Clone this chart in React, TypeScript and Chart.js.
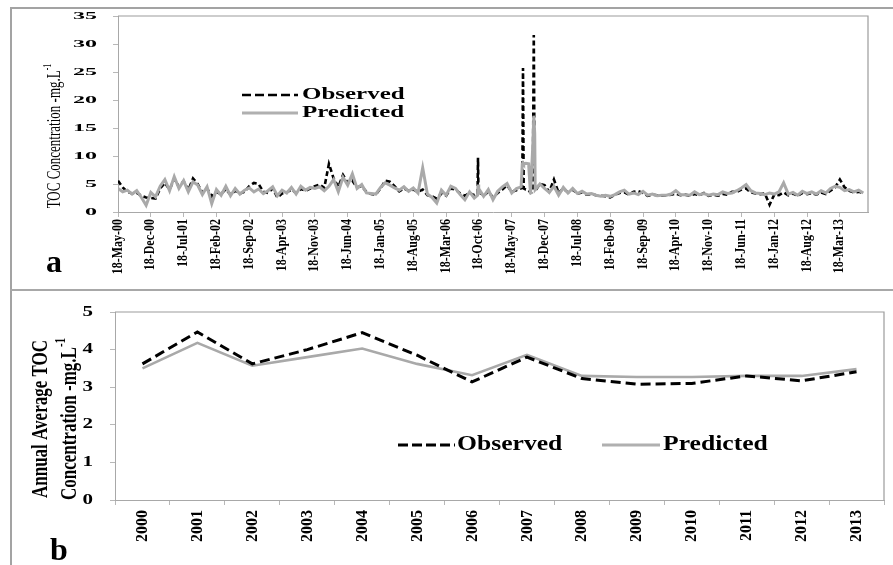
import React, { useEffect, useRef } from 'react';
import { Chart, registerables } from 'chart.js';

Chart.register(...registerables);

// ---------- Panel a : monthly TOC series (month 0 = May-2000) ----------
const dateTickMonths = [0, 7, 14, 21, 28, 35, 42, 49, 56, 63, 70, 77, 84, 91, 98, 105, 112, 119, 126, 133, 140, 147, 154];
const dateTickLabels = [
  '18-May-00', '18-Dec-00', '18-Jul-01', '18-Feb-02', '18-Sep-02', '18-Apr-03', '18-Nov-03', '18-Jun-04',
  '18-Jan-05', '18-Aug-05', '18-Mar-06', '18-Oct-06', '18-May-07', '18-Dec-07', '18-Jul-08', '18-Feb-09',
  '18-Sep-09', '18-Apr-10', '18-Nov-10', '18-Jun-11', '18-Jan-12', '18-Aug-12', '18-Mar-13',
];

const observedMonthly = [
  5.6, 4.4, 3.6, 3.3, 3.4, 2.9, 2.6, 2.5, 2.4, 4.2,
  5.2, 4.0, 5.9, 4.5, 5.5, 3.9, 6.0, 5.0, 3.4, 4.2,
  2.8, 3.6, 3.2, 4.1, 3.1, 3.8, 3.3, 3.6, 4.6, 5.2,
  5.0, 3.6, 3.4, 4.2, 2.6, 3.3, 3.5, 4.0, 3.4, 4.1,
  3.8, 4.2, 4.6, 4.9, 4.3, 8.6, 6.0, 4.5, 6.6, 5.2,
  5.6, 4.4, 4.6, 3.6, 3.2, 3.1, 4.2, 5.6, 5.4, 4.6,
  3.7, 4.2, 3.8, 4.0, 3.6, 4.0, 3.0, 2.8, 2.4, 3.3,
  2.9, 4.2, 4.0, 3.3, 2.9, 3.4, 3.0, 3.6, 2.9, 3.6,
  2.6, 3.4, 4.0, 4.8, 3.6, 3.9, 4.2, 4.0, 3.4, 3.8,
  5.0, 4.8, 3.6, 5.8, 3.4, 4.2, 3.5, 4.0, 3.3, 3.5,
  3.1, 3.2, 3.0, 2.9, 2.8, 2.6, 3.1, 3.4, 3.5, 3.1,
  3.6, 3.7, 3.4, 2.9, 3.1, 3.0, 2.9, 3.0, 3.1, 3.3,
  3.0, 3.1, 2.9, 3.2, 3.0, 3.4, 2.9, 3.1, 2.9, 3.2,
  3.1, 3.6, 3.6, 4.0, 4.2, 3.5, 3.3, 3.2, 3.3, 1.3,
  3.1, 3.0, 3.5, 3.0, 3.3, 2.9, 3.4, 3.2, 3.4, 3.1,
  3.5, 3.2, 3.8, 4.4, 5.8, 4.4, 3.8, 3.5, 3.6, 3.4,
];

const predictedMonthly = [
  4.2, 3.6, 3.9, 3.2, 3.8, 2.6, 1.2, 3.5, 2.7, 4.6,
  5.8, 3.8, 6.3, 4.2, 5.6, 3.6, 5.4, 4.8, 3.1, 4.5,
  1.5, 4.0, 3.0, 4.6, 2.9, 4.2, 3.2, 3.9, 4.3, 3.6,
  4.1, 3.3, 3.8, 4.5, 2.9, 3.9, 3.4, 4.4, 3.2, 4.6,
  3.9, 4.4, 4.2, 4.5, 3.8, 4.6, 5.8, 3.6, 6.2, 4.8,
  6.8, 4.2, 4.9, 3.4, 3.3, 3.2, 4.4, 5.2, 4.8, 4.3,
  3.9, 4.5, 3.7, 4.3, 3.4, 7.9, 3.2, 2.6, 1.6, 3.9,
  3.0, 4.6, 4.2, 3.1, 2.2, 3.6, 2.5, 4.2, 2.8, 4.0,
  2.2, 3.7, 4.5, 5.1, 3.4, 4.2, 4.5, 8.7, 3.2, 4.0,
  5.0, 4.2, 3.5, 4.6, 3.0, 4.4, 3.4, 4.2, 3.3, 3.7,
  3.2, 3.3, 3.0, 2.8, 3.0, 2.8, 3.1, 3.6, 3.9, 3.2,
  3.4, 3.1, 3.7, 3.0, 3.2, 2.9, 3.0, 3.0, 3.2, 3.8,
  3.1, 3.1, 3.0, 3.6, 3.1, 3.3, 3.0, 3.2, 3.1, 3.6,
  3.3, 3.4, 3.8, 4.3, 4.9, 3.8, 3.4, 3.3, 3.1, 3.4,
  3.2, 3.6, 5.2, 3.2, 3.5, 3.0, 3.7, 3.3, 3.6, 3.2,
  3.8, 3.4, 4.2, 4.6, 4.4, 3.8, 4.0, 3.6, 3.9, 3.4,
];

// short-lived peaks sampled between the monthly points
const spikeMonths = [76.7, 76.8, 76.9, 86.25, 86.4, 86.55, 87.6, 88.5, 88.7, 88.9];
const spikeObserved = [3.2, 9.7, 3.4, 4.4, 25.7, 4.2, 3.9, 3.6, 31.6, 3.8];
const spikePredicted = [3.0, 4.9, 3.1, 8.6, 8.8, 8.6, 8.6, 12.0, 17.2, 14.0];

// ---------- Panel b : annual averages ----------
const years = ['2000', '2001', '2002', '2003', '2004', '2005', '2006', '2007', '2008', '2009', '2010', '2011', '2012', '2013'];
const observedAnnual = [3.62, 4.47, 3.62, 4.0, 4.45, 3.85, 3.14, 3.8, 3.23, 3.08, 3.1, 3.3, 3.17, 3.41];
const predictedAnnual = [3.5, 4.18, 3.57, 3.8, 4.03, 3.62, 3.32, 3.86, 3.3, 3.27, 3.27, 3.3, 3.3, 3.48];

const SERIF = '"Liberation Serif", "Times New Roman", serif';
const B_TOP = 291;

function mergeSeries(base: number[], sx: number[], sy: number[]) {
  const pts = base.map((y, i) => ({ x: i, y }));
  sx.forEach((x, i) => pts.push({ x, y: sy[i] }));
  return pts.sort((a, b) => a.x - b.x);
}

type TOpts = { sx?: number; align?: CanvasTextAlign; baseline?: CanvasTextBaseline; rot?: number; color?: string };
function txt(ctx: CanvasRenderingContext2D, s: string, x: number, y: number, font: string, o: TOpts = {}) {
  ctx.save();
  ctx.translate(x, y);
  ctx.scale(o.sx ?? 1, 1);
  if (o.rot) ctx.rotate(o.rot);
  ctx.font = font;
  ctx.textAlign = o.align ?? 'left';
  ctx.textBaseline = o.baseline ?? 'alphabetic';
  ctx.fillStyle = o.color ?? '#000';
  ctx.fillText(s, 0, 0);
  ctx.restore();
}

// rotated (-90deg) title with a superscript tail, centred at (cx, cy)
function rotTitle(ctx: CanvasRenderingContext2D, main: string, sup: string, cx: number, cy: number, size: number, bold: boolean, sx: number) {
  const w = bold ? 'bold ' : '';
  const fMain = `${w}${size}px ${SERIF}`;
  const fSup = `${w}${Math.round(size * 0.62)}px ${SERIF}`;
  ctx.save();
  ctx.translate(cx, cy);
  ctx.scale(sx, 1);
  ctx.rotate(-Math.PI / 2);
  ctx.fillStyle = '#000';
  ctx.textBaseline = 'middle';
  ctx.textAlign = 'left';
  ctx.font = fMain;
  const wm = ctx.measureText(main).width;
  ctx.font = fSup;
  const ws = sup ? ctx.measureText(sup).width : 0;
  const start = -(wm + ws) / 2;
  ctx.font = fMain;
  ctx.fillText(main, start, 0);
  if (sup) {
    ctx.font = fSup;
    ctx.fillText(sup, start + wm, -size * 0.38);
  }
  ctx.restore();
}

function legendLine(ctx: CanvasRenderingContext2D, x1: number, x2: number, y: number, color: string, width: number, dash: number[]) {
  ctx.save();
  ctx.strokeStyle = color;
  ctx.lineWidth = width;
  ctx.setLineDash(dash);
  ctx.beginPath();
  ctx.moveTo(x1, y);
  ctx.lineTo(x2, y);
  ctx.stroke();
  ctx.restore();
}

const boxPlugin = {
  id: 'plotBox',
  afterDraw(chart: any) {
    const { ctx, chartArea: a } = chart;
    ctx.save();
    ctx.strokeStyle = '#9c9c9c';
    ctx.lineWidth = 1.2;
    ctx.beginPath();
    ctx.moveTo(a.left, a.top);
    ctx.lineTo(a.right, a.top);
    ctx.lineTo(a.right, a.bottom);
    ctx.stroke();
    ctx.restore();
  },
};

const textA = {
  id: 'textA',
  afterDraw(chart: any) {
    const ctx: CanvasRenderingContext2D = chart.ctx;
    const xs = chart.scales.x;
    const ys = chart.scales.y;
    ys.ticks.forEach((t: any) =>
      txt(ctx, String(t.value), 97, ys.getPixelForValue(t.value), `bold 10px ${SERIF}`, { sx: 2.4, align: 'right', baseline: 'middle' })
    );
    xs.ticks.forEach((t: any, i: number) =>
      txt(ctx, dateTickLabels[i] ?? '', xs.getPixelForValue(t.value), 219, `bold 12px ${SERIF}`, {
        sx: 1.15, align: 'right', baseline: 'middle', rot: -Math.PI / 2,
      })
    );
    rotTitle(ctx, 'TOC Concentration -mg.L', '-1', 55, 136, 13, false, 1.5);
    legendLine(ctx, 242, 298, 95, '#000', 2.6, [9, 4]);
    legendLine(ctx, 242, 298, 113, '#b0b0b0', 3, []);
    txt(ctx, 'Observed', 302, 95, `bold 16px ${SERIF}`, { sx: 1.56, baseline: 'middle' });
    txt(ctx, 'Predicted', 302, 113, `bold 16px ${SERIF}`, { sx: 1.56, baseline: 'middle' });
    txt(ctx, 'a', 46, 272, `bold 32px ${SERIF}`);
  },
};

const textB = {
  id: 'textB',
  afterDraw(chart: any) {
    const ctx: CanvasRenderingContext2D = chart.ctx;
    const xs = chart.scales.x;
    const ys = chart.scales.y;
    ys.ticks.forEach((t: any) =>
      txt(ctx, String(t.value), 93, ys.getPixelForValue(t.value), `bold 14px ${SERIF}`, { sx: 1.5, align: 'right', baseline: 'middle' })
    );
    years.forEach((yr, i) =>
      txt(ctx, yr, xs.getPixelForValue(i), 510 - B_TOP, `bold 16px ${SERIF}`, {
        sx: 1.1, align: 'right', baseline: 'middle', rot: -Math.PI / 2,
      })
    );
    rotTitle(ctx, 'Annual Average TOC', '', 41, 419 - B_TOP, 17, true, 1.3);
    rotTitle(ctx, 'Concentration -mg.L', '-1', 70, 419 - B_TOP, 17, true, 1.3);
    const ly = 445 - B_TOP;
    legendLine(ctx, 398, 455, ly, '#000', 3, [10, 4]);
    legendLine(ctx, 602, 660, ly, '#b0b0b0', 3, []);
    txt(ctx, 'Observed', 457, ly, `bold 21px ${SERIF}`, { sx: 1.22, baseline: 'middle' });
    txt(ctx, 'Predicted', 663, ly, `bold 21px ${SERIF}`, { sx: 1.22, baseline: 'middle' });
    txt(ctx, 'b', 50, 560 - B_TOP, `bold 32px ${SERIF}`);
  },
};

const axisGrid = { drawOnChartArea: false, drawTicks: true, tickLength: 5, color: '#b8b8b8' };
const axisBorder = { display: true, color: '#a8a8a8', width: 1 };

export default function App() {
  const refA = useRef<HTMLCanvasElement>(null);
  const refB = useRef<HTMLCanvasElement>(null);

  useEffect(() => {
    const obsPts = mergeSeries(observedMonthly, spikeMonths, spikeObserved);
    const predPts = mergeSeries(predictedMonthly, spikeMonths, spikePredicted);

    const chartA = new Chart(refA.current as HTMLCanvasElement, {
      type: 'line',
      data: {
        datasets: [
          { label: 'Observed', data: obsPts, borderColor: '#000', borderWidth: 2.6, borderDash: [5, 3], pointRadius: 0, tension: 0, order: 2 },
          { label: 'Predicted', data: predPts, borderColor: '#a9a9a9', borderWidth: 3, pointRadius: 0, tension: 0, order: 1 },
        ],
      } as any,
      options: {
        animation: false,
        responsive: false,
        devicePixelRatio: 1,
        layout: { padding: { left: 0, top: 16, right: 25, bottom: 0 } },
        plugins: { legend: { display: false }, tooltip: { enabled: false } },
        scales: {
          x: {
            type: 'linear', min: 0, max: 160,
            afterBuildTicks: (s: any) => { s.ticks = dateTickMonths.map((v) => ({ value: v })); },
            ticks: { display: false },
            grid: axisGrid, border: axisBorder,
            afterFit: (s: any) => { s.height = 77; },
          },
          y: {
            min: 0, max: 35,
            ticks: { display: false, stepSize: 5 },
            grid: axisGrid, border: axisBorder,
            afterFit: (s: any) => { s.width = 118; },
          },
        },
      } as any,
      plugins: [boxPlugin, textA],
    });

    const chartB = new Chart(refB.current as HTMLCanvasElement, {
      type: 'line',
      data: {
        labels: years,
        datasets: [
          { label: 'Observed', data: observedAnnual, borderColor: '#000', borderWidth: 3, borderDash: [10, 5], pointRadius: 0, tension: 0 },
          { label: 'Predicted', data: predictedAnnual, borderColor: '#a9a9a9', borderWidth: 2.6, pointRadius: 0, tension: 0 },
        ],
      },
      options: {
        animation: false,
        responsive: false,
        devicePixelRatio: 1,
        layout: { padding: { left: 0, top: 21, right: 9, bottom: 0 } },
        plugins: { legend: { display: false }, tooltip: { enabled: false } },
        scales: {
          x: {
            offset: true,
            ticks: { display: false },
            grid: { ...axisGrid, offset: true },
            border: axisBorder,
            afterFit: (s: any) => { s.height = 65; },
          },
          y: {
            min: 0, max: 5,
            ticks: { display: false, stepSize: 1 },
            grid: axisGrid, border: axisBorder,
            afterFit: (s: any) => { s.width = 115; },
          },
        },
      } as any,
      plugins: [boxPlugin, textB],
    });

    return () => {
      chartA.destroy();
      chartB.destroy();
    };
  }, []);

  return (
    <div style={{ position: 'absolute', left: 0, top: 0, width: 893, height: 565, background: '#fff', overflow: 'hidden' }}>
      <canvas ref={refA} width={893} height={289} style={{ position: 'absolute', left: 0, top: 0 }} />
      <canvas ref={refB} width={893} height={274} style={{ position: 'absolute', left: 0, top: B_TOP }} />
      <div style={{ position: 'absolute', left: 10, top: 7, width: 883, height: 2, background: '#a3a3a3' }} />
      <div style={{ position: 'absolute', left: 10, top: 7, width: 2, height: 558, background: '#a3a3a3' }} />
      <div style={{ position: 'absolute', left: 10, top: 289, width: 883, height: 2, background: '#a8a8a8' }} />
    </div>
  );
}
